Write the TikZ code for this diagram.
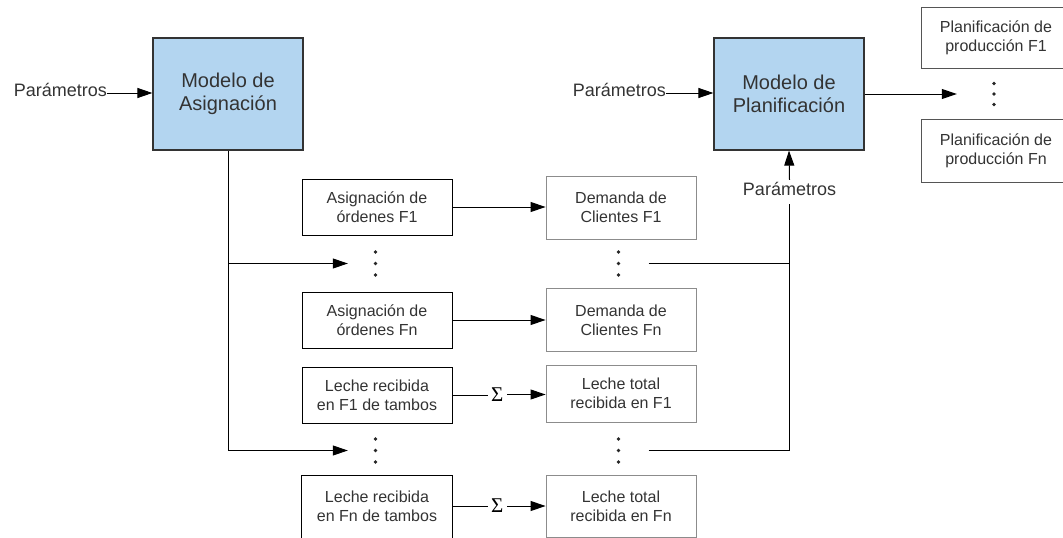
\documentclass[tikz,border=0pt]{standalone}
\usepackage{fontspec}
\setmainfont{Liberation Sans}
\newfontfamily\sumfont{Liberation Serif}
\usetikzlibrary{arrows.meta}
\definecolor{modelfill}{RGB}{179,213,240}
\definecolor{inktext}{RGB}{51,51,51}
\definecolor{edgedark}{RGB}{51,51,51}
\definecolor{edgelight}{RGB}{140,140,140}
\definecolor{edgemid}{RGB}{85,85,85}
\begin{document}
\begin{tikzpicture}[x=1pt,y=-1pt,
  model/.style={draw=edgedark, line width=1.2pt, fill=modelfill,
    minimum width=150pt, minimum height=112pt, inner sep=0pt,
    font=\fontsize{20}{23}\selectfont, text=inktext, align=center},
  smallbox/.style={draw=black, line width=0.9pt, minimum width=150pt,
    minimum height=56pt, inner sep=0pt,
    font=\fontsize{16}{19}\selectfont, text=inktext, align=center},
  lightbox/.style={smallbox, draw=edgelight, minimum height=63pt},
  outbox/.style={smallbox, draw=edgemid},
  plainlabel/.style={font=\fontsize{18}{20}\selectfont, text=inktext,
    inner sep=0pt, text height=12pt, text depth=6pt},
  sumlabel/.style={font=\sumfont\fontsize{21}{22}\selectfont, text=black,
    inner sep=0pt, minimum width=19pt, minimum height=14pt},
  vdotsnode/.style={inner sep=0pt, minimum height=30pt,
    path picture={\foreach \dy in {-#1,0,#1}
      \fill[black!85] ([yshift=\dy pt]path picture bounding box.center) circle (1.9pt);}},
  conn/.style={line width=1pt, black},
  arr/.style={conn, -{Triangle[length=15pt,width=10pt]}}
]
\useasboundingbox (0,0) rectangle (1063,538);
\clip (0,0) rectangle (1063,538);

% the two models
\node[model] (asg) at (228,94) {Modelo de\\Asignación};
\node[model] (plan) at (789,94) {Modelo de\\Planificación};

% parameter inputs
\node[plainlabel, anchor=east] (parA) at (107,93) {Parámetros};
\node[plainlabel, anchor=east] (parP) at (666,93) {Parámetros};
\node[plainlabel, inner ysep=3pt] (parB) at (789.5,192) {Parámetros};

% outputs of the planning model
\node[outbox, minimum height=61pt] (o1) at (996,37.5) {Planificación de\\producción F1};
\node[outbox, minimum height=63pt] (on) at (996,150.5) {Planificación de\\producción Fn};
\node[vdotsnode=10.5, minimum width=74pt] (od) at (994,94) {};

% left column: model results
\node[smallbox] (a1) at (377,207) {Asignación de\\órdenes F1};
\node[smallbox] (an) at (377,320) {Asignación de\\órdenes Fn};
\node[smallbox] (l1) at (377,395) {Leche recibida\\en F1 de tambos};
\node[smallbox, draw=none, minimum height=60pt] (ln) at (377,506) {Leche recibida\\en Fn de tambos};
\draw[black, line width=0.9pt] ([yshift=-12pt]ln.south west) -- (ln.north west)
  -- (ln.north east) -- ([yshift=-12pt]ln.south east);
\node[vdotsnode=11.5, minimum width=55pt] (ld1) at (375.5,263.5) {};
\node[vdotsnode=11.5, minimum width=55pt] (ld2) at (375.5,450.5) {};

% right column: derived data
\node[lightbox] (d1) at (621,207.5) {Demanda de\\Clientes F1};
\node[lightbox] (dn) at (621,320) {Demanda de\\Clientes Fn};
\node[lightbox, minimum height=57pt] (t1) at (621,393.5) {Leche total\\recibida en F1};
\node[lightbox, minimum height=62pt] (tn) at (621,506) {Leche total\\recibida en Fn};
\node[vdotsnode=11.5, minimum width=60pt] (rd1) at (618.5,263.5) {};
\node[vdotsnode=11.5, minimum width=60pt] (rd2) at (618.5,450.5) {};

% sums
\node[sumlabel] (s1) at (497.3,394.5) {Σ};
\node[sumlabel] (sn) at (497.3,506) {Σ};

% connectors
\draw[arr] (parA.east) -- (parA.east -| asg.west);
\draw[arr] (parP.east) -- (parP.east -| plan.west);
\draw[arr] (parB.north) -- (plan.south);
\draw[arr] (plan.east) -- (od.west);

\draw[arr] (asg.south) |- (ld2.west);
\draw[arr] (asg.south |- ld1.west) -- (ld1.west);

\draw[arr] (a1.east) -- (a1.east -| d1.west);
\draw[arr] (an.east) -- (an.east -| dn.west);
\draw[conn] (l1.east) -- (l1.east -| s1.west);
\draw[arr] (s1.east) -- (s1.east -| t1.west);
\draw[conn] (ln.east) -- (ln.east -| sn.west);
\draw[arr] (sn.east) -- (sn.east -| tn.west);

\draw[conn] (rd2.east) -| (parB.south);
\draw[conn] (rd1.east) -- (rd1.east -| parB.south);
\end{tikzpicture}
\end{document}
